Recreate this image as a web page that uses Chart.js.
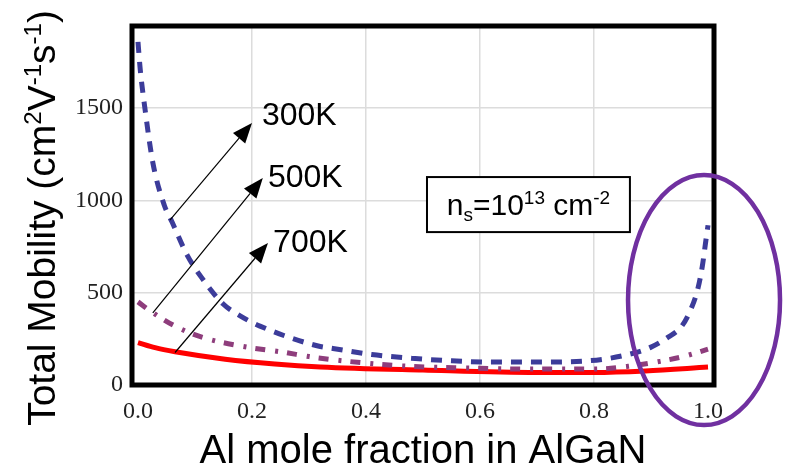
<!DOCTYPE html>
<html>
<head>
<meta charset="utf-8">
<script src="https://cdn.jsdelivr.net/npm/chart.js@4.4.1/dist/chart.umd.min.js"></script>
<style>
html,body{margin:0;padding:0;background:#fff;}
canvas{display:block;}
</style>
</head>
<body>
<canvas id="c" width="786" height="470"></canvas>
<script>
// ---- data ----
const xTicks = [0.0, 0.2, 0.4, 0.6, 0.8, 1.0];
const yTicks = [0, 500, 1000, 1500];

const x300 = [0, 0.004, 0.012, 0.026, 0.046, 0.06, 0.086, 0.112, 0.149, 0.18, 0.214, 0.316, 0.342, 0.41, 0.48, 0.55, 0.62, 0.69, 0.79, 0.86, 0.9, 0.93, 0.954, 0.97, 0.982, 0.99, 0.997, 1.0];
const mu300 = [1858, 1707, 1502, 1205, 975, 881, 705, 580, 440, 373, 319, 211, 198, 165, 145, 131, 124, 124, 131, 165, 205, 259, 319, 411, 519, 643, 800, 865];

const x500 = [0, 0.025, 0.065, 0.112, 0.18, 0.258, 0.3, 0.35, 0.46, 0.58, 0.69, 0.8, 0.86, 0.916, 0.96, 1.0];
const mu500 = [450, 394, 319, 259, 211, 176, 154, 134, 104, 92, 86, 86, 101, 128, 157, 194];

const x700 = [0, 0.03, 0.065, 0.153, 0.24, 0.32, 0.5, 0.7, 0.8, 0.89, 1.0];
const mu700 = [230, 202, 180, 140, 114, 98, 81, 68, 68, 76, 97];

const seriesLabels = ['300K', '500K', '700K'];

// annotation anchors (data coordinates)
const labelPos = [[0.2175, 1408], [0.228, 1072], [0.237, 720]];
const arrowTail = [[0.056, 893], [0.026, 390], [0.065, 176]];
const arrowHead = [[0.2, 1419], [0.219, 1121], [0.228, 769]];

const SANS = '"Liberation Sans", Arial, sans-serif';
const SERIF = '"Liberation Serif", "Times New Roman", serif';

function drawRich(ctx, parts, x, y, size, align) {
  const small = Math.round(size * 0.62);
  let w = 0;
  parts.forEach(p => {
    ctx.font = (p[1] ? small : size) + 'px ' + SANS;
    w += ctx.measureText(p[0]).width;
  });
  let cx = align === 'center' ? x - w / 2 : x;
  ctx.textAlign = 'left';
  ctx.textBaseline = 'alphabetic';
  parts.forEach(p => {
    ctx.font = (p[1] ? small : size) + 'px ' + SANS;
    const dy = p[1] === 1 ? -size * 0.36 : (p[1] === -1 ? size * 0.2 : 0);
    ctx.fillText(p[0], cx, y + dy);
    cx += ctx.measureText(p[0]).width;
  });
}

const decor = {
  id: 'decor',
  afterDatasetsDraw(chart) {
    const ctx = chart.ctx, a = chart.chartArea;
    ctx.save();
    ctx.strokeStyle = '#000';
    ctx.lineWidth = 5;
    ctx.strokeRect(a.left, a.top, a.right - a.left, a.bottom - a.top);
    ctx.restore();
  },
  afterDraw(chart) {
    const ctx = chart.ctx, xs = chart.scales.x, ys = chart.scales.y;
    const px = v => xs.getPixelForValue(v), py = v => ys.getPixelForValue(v);
    ctx.save();
    ctx.fillStyle = '#000';
    // arrows
    ctx.strokeStyle = '#000';
    ctx.lineWidth = 1.2;
    for (let i = 0; i < 3; i++) {
      const x1 = px(arrowTail[i][0]), y1 = py(arrowTail[i][1]);
      const x2 = px(arrowHead[i][0]), y2 = py(arrowHead[i][1]);
      const ang = Math.atan2(y2 - y1, x2 - x1);
      const L = 20, W = 8;
      const bx = x2 - L * Math.cos(ang), by = y2 - L * Math.sin(ang);
      ctx.beginPath(); ctx.moveTo(x1, y1); ctx.lineTo(bx, by); ctx.stroke();
      ctx.beginPath();
      ctx.moveTo(x2, y2);
      ctx.lineTo(bx + W * Math.sin(ang), by - W * Math.cos(ang));
      ctx.lineTo(bx - W * Math.sin(ang), by + W * Math.cos(ang));
      ctx.closePath(); ctx.fill();
      ctx.font = '32px ' + SANS;
      ctx.textAlign = 'left'; ctx.textBaseline = 'alphabetic';
      ctx.fillText(seriesLabels[i], px(labelPos[i][0]), py(labelPos[i][1]));
    }
    // n_s box
    const bx0 = px(0.507), bx1 = px(0.863), by0 = py(1126), by1 = py(828);
    ctx.fillStyle = '#fff';
    ctx.fillRect(bx0, by0, bx1 - bx0, by1 - by0);
    ctx.lineWidth = 2;
    ctx.strokeRect(bx0, by0, bx1 - bx0, by1 - by0);
    ctx.fillStyle = '#000';
    drawRich(ctx, [['n', 0], ['s', -1], ['=10', 0], ['13', 1], [' cm', 0], ['-2', 1]], (bx0 + bx1) / 2, by0 + 38, 30, 'center');
    // axis titles
    drawRich(ctx, [['Al mole fraction in AlGaN', 0]], 423, 463, 40, 'center');
    ctx.save();
    ctx.translate(55, 218);
    ctx.rotate(-Math.PI / 2);
    drawRich(ctx, [['Total Mobility (cm', 0], ['2', 1], ['V', 0], ['-1', 1], ['s', 0], ['-1', 1], [')', 0]], 0, 0, 39, 'center');
    ctx.restore();
    // highlight ellipse
    ctx.strokeStyle = '#7030A0';
    ctx.lineWidth = 4.5;
    ctx.beginPath();
    ctx.ellipse(px(0.993), py(460), 76, 125, 0, 0, Math.PI * 2);
    ctx.stroke();
    ctx.restore();
  }
};

const mk = (xs, ys) => xs.map((x, i) => ({x: x, y: ys[i]}));

new Chart(document.getElementById('c'), {
  type: 'line',
  data: {
    datasets: [
      {label: seriesLabels[0], data: mk(x300, mu300), borderColor: '#3c3c9a', borderWidth: 5, borderDash: [11, 9], pointRadius: 0, cubicInterpolationMode: 'monotone', fill: false},
      {label: seriesLabels[1], data: mk(x500, mu500), borderColor: '#8e3d7c', borderWidth: 5, borderDash: [10, 10, 3, 9], pointRadius: 0, cubicInterpolationMode: 'monotone', fill: false},
      {label: seriesLabels[2], data: mk(x700, mu700), borderColor: '#ff0000', borderWidth: 5, pointRadius: 0, cubicInterpolationMode: 'monotone', fill: false}
    ]
  },
  options: {
    responsive: false,
    animation: false,
    devicePixelRatio: 1,
    layout: {padding: {left: 0, right: 72, top: 26, bottom: 0}},
    plugins: {legend: {display: false}, tooltip: {enabled: false}},
    scales: {
      x: {
        type: 'linear', min: -0.0105, max: 1.0105,
        afterBuildTicks: s => { s.ticks = xTicks.map(v => ({value: v})); },
        afterFit: s => { s.height = 85; },
        border: {display: false},
        grid: {drawTicks: false, lineWidth: 1.5, color: c => (c.tick && (c.tick.value === 0 || c.tick.value === 1)) ? 'rgba(0,0,0,0)' : '#dcdcdc'},
        ticks: {padding: 12, color: '#222', font: {family: SERIF, size: 24}, callback: v => Number(v).toFixed(1), maxRotation: 0}
      },
      y: {
        type: 'linear', min: 0, max: 1944,
        afterBuildTicks: s => { s.ticks = yTicks.map(v => ({value: v})); },
        afterFit: s => { s.width = 132; },
        border: {display: false},
        grid: {drawTicks: false, lineWidth: 1.5, color: c => (c.tick && c.tick.value === 0) ? 'rgba(0,0,0,0)' : '#dcdcdc'},
        ticks: {padding: 9, color: '#222', font: {family: SERIF, size: 24}, callback: v => String(v)}
      }
    }
  },
  plugins: [decor]
});
</script>
</body>
</html>
